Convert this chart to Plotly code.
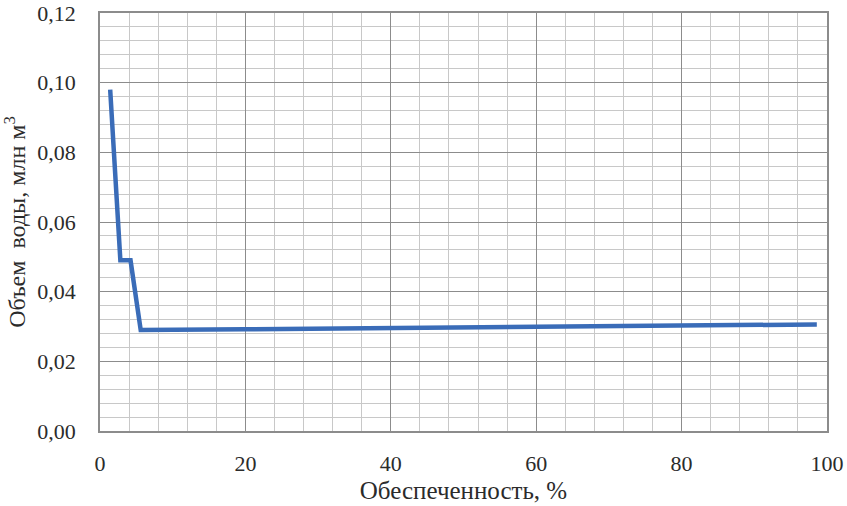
import plotly.graph_objects as go

# Обеспеченность, % and объем воды, млн м3
supply_pct = [1.4, 2.8, 4.2, 5.6, 20.0, 40.0, 60.0, 80.0, 98.6]
volume = [0.098, 0.049, 0.049, 0.0290, 0.0292, 0.0295, 0.0299, 0.0302, 0.0306]

font_family = 'Liberation Serif'

fig = go.Figure()
fig.add_trace(go.Scatter(
    x=supply_pct, y=volume,
    mode='lines',
    line=dict(color='#3a6cb8', width=4.5),
    showlegend=False,
    hoverinfo='skip',
))

fig.update_layout(
    width=847, height=506,
    margin=dict(l=100, r=20, t=13, b=75),
    paper_bgcolor='white',
    plot_bgcolor='white',
    separators=', ',
    font=dict(family=font_family, size=22, color='#2b2b2b'),
)

fig.update_xaxes(
    range=[0, 100], dtick=20, tick0=0, automargin=False,
    showgrid=True, gridcolor='#8c8c8c', gridwidth=1.2,
    minor=dict(dtick=4, showgrid=True, gridcolor='#c8c8c8', gridwidth=1),
    showline=True, linecolor='#8c8c8c', linewidth=1.5, mirror=True,
    zeroline=False, ticks='', ticklabelstandoff=12,
    tickfont=dict(family=font_family, size=22),
    title=dict(text='Обеспеченность, %', font=dict(family=font_family, size=25), standoff=6),
)
fig.update_yaxes(
    range=[0, 0.12], dtick=0.02, tick0=0, tickformat='.2f', automargin=False,
    showgrid=True, gridcolor='#8c8c8c', gridwidth=1.2,
    minor=dict(dtick=0.004, showgrid=True, gridcolor='#c8c8c8', gridwidth=1),
    showline=True, linecolor='#8c8c8c', linewidth=1.5, mirror=True,
    zeroline=False, ticks='', ticklabelstandoff=18,
    tickfont=dict(family=font_family, size=22),
    title=dict(text='Объем  воды, млн м<sup>3</sup>', font=dict(family=font_family, size=24), standoff=8),
)

# drop the default body margin so the figure fills the window exactly
fig.write_html(
    'out.html',
    config={'displayModeBar': False},
    post_script="document.body.style.margin='0';document.body.style.overflow='hidden';",
)
